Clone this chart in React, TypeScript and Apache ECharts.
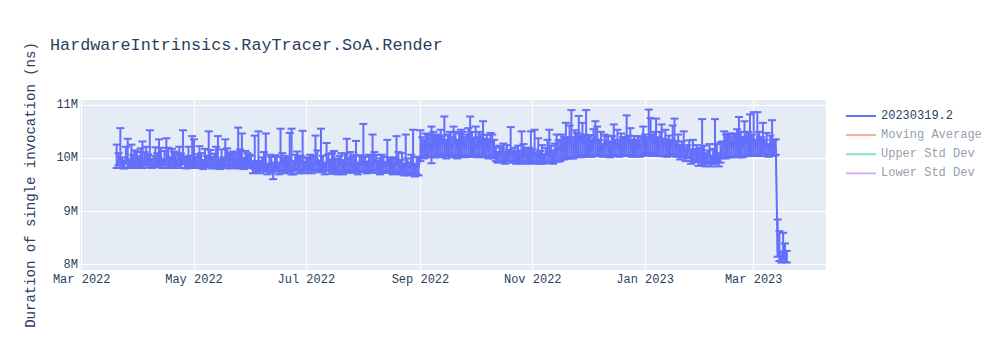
import React, { useEffect, useRef } from 'react';
import * as echarts from 'echarts';

const TITLE = 'HardwareIntrinsics.RayTracer.SoA.Render';
const Y_TITLE = 'Duration of single invocation (ns)';
const SERIES_NAME = '20230319.2';
const EXTRA_NAMES = ['Moving Average', 'Upper Std Dev', 'Lower Std Dev'];
const EXTRA_COLORS = ['#f7aa9d', '#80e5ca', '#d5b1fc'];

// One run per day, starting at this date
const START_DATE = '2022-03-20';

// Mean duration per day, millions of ns (one line per month)
const values: number[] = [
  9.88, 9.95, 10.05, 9.9, 9.86, 10.02, 9.93, 9.88, 10.08, 9.95, 9.9, 10.0,
  9.92, 10.04, 9.88, 9.97, 10.1, 9.9, 10.02, 9.87, 9.95, 10.06, 9.9, 9.98, 10.05, 9.88, 10.0, 9.93, 10.08, 9.87, 9.96, 10.03, 9.9, 9.98, 10.07, 9.89, 10.05, 9.92, 9.87, 10.02, 9.95, 9.9,
  10.02, 9.88, 9.96, 10.08, 9.9, 9.85, 10.0, 9.93, 9.95, 10.06, 9.88, 9.97, 10.04, 9.9, 9.86, 10.02, 9.92, 9.98, 10.07, 9.87, 9.95, 10.03, 9.9, 10.0, 9.88, 10.05, 9.93, 9.86, 10.02, 9.9, 9.97,
  9.9, 9.82, 9.95, 9.85, 9.98, 9.8, 9.9, 10.02, 9.85, 9.78, 9.92, 9.83, 9.8, 9.96, 9.88, 9.8, 9.9, 10.0, 9.82, 9.93, 9.86, 9.97, 9.85, 9.8, 9.95, 10.03, 9.84, 9.9, 9.98, 9.82,
  9.9, 9.85, 9.97, 9.82, 9.93, 9.88, 10.0, 9.84, 9.95, 9.9, 9.8, 9.92, 9.98, 9.83, 9.9, 10.02, 9.85, 9.8, 9.95, 9.88, 9.82, 9.97, 9.9, 9.85, 10.0, 9.83, 9.92, 9.88, 9.8, 9.96, 9.86,
  9.95, 9.88, 9.82, 9.97, 9.9, 9.85, 10.0, 9.92, 9.85, 9.8, 9.95, 9.88, 9.83, 9.98, 9.9, 9.85, 9.8, 9.92, 9.88, 10.0, 9.82, 9.9, 9.78, 9.95, 9.85, 9.8, 9.97, 9.88, 9.75, 9.9, 9.83,
  10.03, 10.25, 10.15, 10.35, 10.2, 10.3, 10.12, 10.4, 10.22, 10.3, 10.18, 10.42, 10.25, 10.35, 10.15, 10.3, 10.4, 10.2, 10.28, 10.38, 10.15, 10.32, 10.25, 10.4, 10.2, 10.3, 10.45, 10.25, 10.35, 10.18,
  10.3, 10.2, 10.38, 10.25, 10.4, 10.22, 10.32, 10.15, 10.28, 10.35, 10.2, 10.1, 10.02, 10.12, 10.05, 10.18, 10.0, 10.1, 10.06, 10.15, 10.02, 10.1, 9.98, 10.12, 10.05, 10.0, 10.15, 10.03, 10.1, 10.0, 10.12,
  10.05, 10.12, 10.0, 10.15, 10.02, 10.1, 9.98, 10.08, 10.15, 10.04, 10.12, 10.0, 10.18, 10.1, 10.22, 10.15, 10.3, 10.2, 10.35, 10.25, 10.42, 10.3, 10.2, 10.38, 10.28, 10.45, 10.3, 10.4, 10.25, 10.35,
  10.2, 10.32, 10.15, 10.4, 10.3, 10.38, 10.2, 10.3, 10.15, 10.35, 10.22, 10.28, 10.12, 10.3, 10.4, 10.2, 10.3, 10.15, 10.35, 10.25, 10.2, 10.4, 10.28, 10.35, 10.15, 10.3, 10.2, 10.32, 10.15, 10.25, 10.38,
  10.3, 10.2, 10.4, 10.45, 10.25, 10.38, 10.3, 10.2, 10.35, 10.4, 10.22, 10.3, 10.15, 10.28, 10.2, 10.38, 10.3, 10.18, 10.25, 10.1, 10.2, 10.28, 10.05, 10.15, 10.22, 10.0, 10.1, 10.05, 10.15, 9.98, 10.08,
  10.0, 10.12, 9.95, 10.05, 10.15, 9.9, 10.08, 10.02, 10.15, 9.95, 10.1, 10.2, 10.28, 10.15, 10.25, 10.32, 10.2, 10.35, 10.25, 10.4, 10.3, 10.35, 10.2, 10.42, 10.3, 10.38, 10.45, 10.25,
  10.35, 10.2, 10.42, 10.3, 10.25, 10.4, 10.2, 10.3, 10.15, 10.28, 10.35, 10.2, 10.22, 8.25, 8.15, 8.1, 8.2, 8.12, 8.1,
];

// Error bar extent above the mean, millions of ns
const errPlus: number[] = [
  0.38, 0.15, 0.52, 0.12, 0.1, 0.2, 0.44, 0.1, 0.18, 0.12, 0.25, 0.12,
  0.12, 0.15, 0.44, 0.15, 0.12, 0.18, 0.51, 0.12, 0.1, 0.15, 0.2, 0.38, 0.15, 0.1, 0.14, 0.45, 0.12, 0.15, 0.22, 0.1, 0.18, 0.12, 0.15, 0.2, 0.48, 0.12, 0.15, 0.2, 0.1, 0.52,
  0.34, 0.15, 0.12, 0.15, 0.2, 0.12, 0.18, 0.12, 0.56, 0.1, 0.15, 0.12, 0.18, 0.52, 0.12, 0.15, 0.1, 0.38, 0.12, 0.2, 0.15, 0.1, 0.18, 0.12, 0.7, 0.12, 0.54, 0.15, 0.12, 0.2, 0.1,
  0.15, 0.12, 0.48, 0.1, 0.53, 0.15, 0.12, 0.1, 0.62, 0.12, 0.15, 0.2, 0.12, 0.1, 0.15, 0.12, 0.66, 0.1, 0.18, 0.12, 0.15, 0.51, 0.71, 0.15, 0.12, 0.1, 0.2, 0.15, 0.54, 0.12,
  0.12, 0.15, 0.1, 0.2, 0.12, 0.55, 0.15, 0.12, 0.61, 0.15, 0.12, 0.37, 0.1, 0.15, 0.2, 0.12, 0.15, 0.18, 0.1, 0.22, 0.15, 0.12, 0.47, 0.15, 0.12, 0.2, 0.15, 0.45, 0.12, 0.1, 0.18,
  0.7, 0.15, 0.12, 0.1, 0.15, 0.6, 0.12, 0.15, 0.1, 0.2, 0.12, 0.15, 0.1, 0.37, 0.12, 0.15, 0.2, 0.1, 0.54, 0.12, 0.15, 0.2, 0.12, 0.5, 0.15, 0.12, 0.1, 0.66, 0.15, 0.12, 0.2,
  0.5, 0.15, 0.2, 0.12, 0.25, 0.15, 0.48, 0.1, 0.2, 0.15, 0.25, 0.12, 0.18, 0.44, 0.2, 0.15, 0.1, 0.2, 0.32, 0.12, 0.2, 0.15, 0.29, 0.1, 0.2, 0.15, 0.12, 0.54, 0.15, 0.2,
  0.3, 0.2, 0.12, 0.2, 0.3, 0.15, 0.12, 0.2, 0.2, 0.1, 0.15, 0.12, 0.1, 0.12, 0.15, 0.1, 0.12, 0.15, 0.1, 0.44, 0.12, 0.1, 0.15, 0.12, 0.1, 0.51, 0.12, 0.15, 0.1, 0.2, 0.39,
  0.12, 0.42, 0.1, 0.23, 0.12, 0.15, 0.1, 0.12, 0.2, 0.5, 0.12, 0.15, 0.1, 0.35, 0.12, 0.2, 0.15, 0.2, 0.32, 0.15, 0.2, 0.61, 0.2, 0.15, 0.2, 0.35, 0.12, 0.27, 0.2, 0.56,
  0.2, 0.12, 0.2, 0.15, 0.4, 0.22, 0.15, 0.2, 0.12, 0.1, 0.2, 0.15, 0.2, 0.12, 0.24, 0.15, 0.24, 0.2, 0.12, 0.15, 0.2, 0.41, 0.15, 0.22, 0.2, 0.12, 0.15, 0.1, 0.2, 0.15, 0.22,
  0.15, 0.2, 0.52, 0.31, 0.2, 0.12, 0.45, 0.2, 0.15, 0.24, 0.15, 0.24, 0.2, 0.15, 0.12, 0.24, 0.45, 0.15, 0.2, 0.15, 0.12, 0.23, 0.15, 0.1, 0.12, 0.15, 0.25, 0.12, 0.1, 0.2, 0.12,
  0.74, 0.12, 0.15, 0.1, 0.12, 0.15, 0.1, 0.72, 0.12, 0.15, 0.2, 0.12, 0.23, 0.3, 0.2, 0.15, 0.2, 0.12, 0.2, 0.15, 0.48, 0.15, 0.2, 0.28, 0.2, 0.12, 0.38, 0.2,
  0.52, 0.15, 0.45, 0.2, 0.15, 0.27, 0.15, 0.18, 0.12, 0.15, 0.37, 0.15, 0.14, 0.6, 0.48, 0.15, 0.4, 0.28, 0.16,
];

// Error bar extent below the mean, millions of ns
const errMinus: number[] = [
  0.06, 0.08, 0.15, 0.07, 0.05, 0.12, 0.1, 0.06, 0.2, 0.1, 0.08, 0.12,
  0.08, 0.15, 0.06, 0.1, 0.2, 0.07, 0.14, 0.05, 0.1, 0.18, 0.07, 0.12, 0.16, 0.06, 0.12, 0.1, 0.2, 0.05, 0.1, 0.15, 0.08, 0.12, 0.18, 0.07, 0.16, 0.1, 0.06, 0.15, 0.1, 0.08,
  0.15, 0.06, 0.1, 0.2, 0.08, 0.05, 0.14, 0.1, 0.12, 0.18, 0.07, 0.12, 0.16, 0.08, 0.06, 0.15, 0.1, 0.12, 0.2, 0.06, 0.1, 0.15, 0.08, 0.14, 0.07, 0.18, 0.1, 0.06, 0.15, 0.08, 0.12,
  0.08, 0.1, 0.15, 0.1, 0.2, 0.08, 0.12, 0.2, 0.1, 0.08, 0.15, 0.1, 0.19, 0.2, 0.12, 0.1, 0.15, 0.22, 0.1, 0.15, 0.12, 0.2, 0.15, 0.1, 0.18, 0.25, 0.12, 0.15, 0.2, 0.1,
  0.1, 0.12, 0.2, 0.1, 0.15, 0.12, 0.22, 0.1, 0.2, 0.15, 0.1, 0.15, 0.2, 0.12, 0.15, 0.25, 0.12, 0.1, 0.2, 0.15, 0.12, 0.2, 0.15, 0.12, 0.22, 0.1, 0.15, 0.13, 0.1, 0.2, 0.12,
  0.2, 0.12, 0.1, 0.2, 0.15, 0.12, 0.22, 0.15, 0.12, 0.1, 0.2, 0.15, 0.1, 0.22, 0.15, 0.12, 0.1, 0.18, 0.15, 0.25, 0.12, 0.15, 0.1, 0.22, 0.15, 0.12, 0.25, 0.18, 0.09, 0.2, 0.15,
  0.08, 0.22, 0.15, 0.3, 0.18, 0.25, 0.21, 0.35, 0.2, 0.28, 0.15, 0.35, 0.22, 0.3, 0.15, 0.25, 0.35, 0.18, 0.25, 0.32, 0.15, 0.28, 0.22, 0.35, 0.18, 0.25, 0.4, 0.22, 0.3, 0.15,
  0.25, 0.18, 0.32, 0.2, 0.35, 0.2, 0.28, 0.15, 0.25, 0.3, 0.2, 0.15, 0.1, 0.18, 0.12, 0.22, 0.1, 0.15, 0.12, 0.2, 0.1, 0.15, 0.08, 0.18, 0.12, 0.1, 0.2, 0.12, 0.15, 0.1, 0.18,
  0.12, 0.2, 0.1, 0.22, 0.12, 0.18, 0.08, 0.15, 0.22, 0.12, 0.2, 0.1, 0.25, 0.15, 0.28, 0.2, 0.3, 0.22, 0.35, 0.25, 0.4, 0.3, 0.2, 0.35, 0.25, 0.4, 0.28, 0.35, 0.22, 0.3,
  0.15, 0.28, 0.12, 0.35, 0.25, 0.32, 0.15, 0.25, 0.12, 0.3, 0.18, 0.22, 0.1, 0.25, 0.35, 0.15, 0.25, 0.12, 0.3, 0.2, 0.15, 0.35, 0.22, 0.3, 0.12, 0.25, 0.15, 0.28, 0.12, 0.2, 0.3,
  0.2, 0.15, 0.32, 0.35, 0.2, 0.3, 0.25, 0.15, 0.3, 0.35, 0.18, 0.25, 0.12, 0.22, 0.15, 0.3, 0.25, 0.15, 0.2, 0.12, 0.18, 0.25, 0.1, 0.15, 0.2, 0.1, 0.15, 0.12, 0.18, 0.12, 0.15,
  0.12, 0.2, 0.1, 0.15, 0.22, 0.05, 0.18, 0.12, 0.22, 0.1, 0.18, 0.2, 0.25, 0.15, 0.22, 0.3, 0.18, 0.32, 0.22, 0.35, 0.28, 0.3, 0.18, 0.38, 0.25, 0.32, 0.4, 0.2,
  0.3, 0.15, 0.35, 0.25, 0.2, 0.3, 0.15, 0.25, 0.12, 0.2, 0.3, 0.15, 0.15, 0.1, 0.08, 0.06, 0.1, 0.07, 0.06,
];

const xTickDates: string[] = ['2022-03-01', '2022-05-01', '2022-07-01', '2022-09-01', '2022-11-01', '2023-01-01', '2023-03-01'];
const yTicksM: number[] = [8, 9, 10, 11];
const yRangeM: number[] = [7.9, 11.1];

const MONTHS = ['Jan', 'Feb', 'Mar', 'Apr', 'May', 'Jun', 'Jul', 'Aug', 'Sep', 'Oct', 'Nov', 'Dec'];
const FONT = '"Liberation Mono", "Courier New", monospace';
const TEXT = '#2a3f5f';
const BLUE = '#636efa';

function toTs(d: string): number {
  const [y, m, dd] = d.split('-').map(Number);
  return new Date(y, m - 1, dd).getTime();
}

export default function App() {
  const ref = useRef<HTMLDivElement>(null);
  useEffect(() => {
    document.body.style.margin = '0';
    const chart = echarts.init(ref.current!, null, { renderer: 'svg' });
    const [sy, sm, sd] = START_DATE.split('-').map(Number);
    const n = Math.min(values.length, errPlus.length, errMinus.length);
    const ts: number[] = [];
    for (let i = 0; i < n; i++) ts.push(new Date(sy, sm - 1, sd + i).getTime());
    const lineData = ts.map((t, i) => [t, values[i] * 1e6]);
    const errData = ts.map((t, i) => [t, (values[i] - errMinus[i]) * 1e6, (values[i] + errPlus[i]) * 1e6]);
    const DAY = 86400000;
    const xMin = new Date(2022, 1, 28, 2).getTime();
    const xMax = xMin + 405.2 * DAY;
    const xTicks = xTickDates.map(toTs);

    chart.setOption({
      animation: false,
      backgroundColor: '#ffffff',
      title: {
        text: TITLE,
        left: 50,
        top: 37,
        padding: 0,
        textStyle: { fontFamily: FONT, fontSize: 16.8, fontWeight: 'normal', color: TEXT },
      },
      legend: {
        orient: 'vertical',
        left: 846,
        top: 110,
        padding: 0,
        itemWidth: 30,
        itemHeight: 14,
        itemGap: 7.1,
        icon: 'path://M0,0L30,0L30,2L0,2Z',
        textStyle: { fontFamily: FONT, fontSize: 12, color: TEXT },
        data: [
          { name: SERIES_NAME, textStyle: { color: TEXT } },
          ...EXTRA_NAMES.map((nm) => ({ name: nm, textStyle: { color: '#949faf' } })),
        ],
      },
      grid: {
        left: 80,
        right: 174,
        top: 100,
        bottom: 80,
        show: true,
        backgroundColor: '#E5ECF6',
        borderWidth: 0,
        containLabel: false,
      },
      xAxis: {
        type: 'value',
        min: xMin,
        max: xMax,
        axisLine: { show: false },
        axisTick: { show: false, customValues: xTicks },
        axisLabel: {
          customValues: xTicks,
          margin: 4,
          fontFamily: FONT,
          fontSize: 12,
          color: TEXT,
          formatter: (v: number) => {
            const d = new Date(v);
            return `${MONTHS[d.getMonth()]} ${d.getFullYear()}`;
          },
        },
        splitLine: { show: true, lineStyle: { color: '#ffffff', width: 1 } },
      },
      yAxis: {
        type: 'value',
        min: yRangeM[0] * 1e6,
        max: yRangeM[1] * 1e6,
        name: Y_TITLE,
        nameLocation: 'middle',
        nameGap: 42,
        nameTextStyle: { fontFamily: FONT, fontSize: 14, color: TEXT },
        axisLine: { show: false },
        axisTick: { show: false, customValues: yTicksM.map((v) => v * 1e6) },
        axisLabel: {
          customValues: yTicksM.map((v) => v * 1e6),
          margin: 2,
          fontFamily: FONT,
          fontSize: 12,
          color: TEXT,
          formatter: (v: number) => `${Math.round(v / 1e6)}M`,
        },
        splitLine: { show: true, lineStyle: { color: '#ffffff', width: 1 } },
      },
      series: [
        {
          name: 'errors',
          type: 'custom',
          data: errData,
          encode: { x: 0, y: [1, 2] },
          renderItem: (params: any, api: any) => {
            const x = api.value(0);
            const pLo = api.coord([x, api.value(1)]);
            const pHi = api.coord([x, api.value(2)]);
            const w = 4;
            const style = { stroke: BLUE, lineWidth: 2 };
            return {
              type: 'group',
              children: [
                { type: 'line', shape: { x1: pHi[0], y1: pHi[1], x2: pLo[0], y2: pLo[1] }, style },
                { type: 'line', shape: { x1: pHi[0] - w, y1: pHi[1], x2: pHi[0] + w, y2: pHi[1] }, style },
                { type: 'line', shape: { x1: pLo[0] - w, y1: pLo[1], x2: pLo[0] + w, y2: pLo[1] }, style },
              ],
            };
          },
        },
        {
          name: SERIES_NAME,
          type: 'line',
          data: lineData,
          symbol: 'none',
          color: BLUE,
          lineStyle: { color: BLUE, width: 2 },
        },
        ...EXTRA_NAMES.map((nm, i) => ({
          name: nm,
          type: 'line',
          data: [],
          symbol: 'none',
          color: EXTRA_COLORS[i],
          lineStyle: { color: EXTRA_COLORS[i], width: 2 },
        })),
      ],
    });
    return () => chart.dispose();
  }, []);
  return <div ref={ref} style={{ width: 1000, height: 350 }} />;
}
